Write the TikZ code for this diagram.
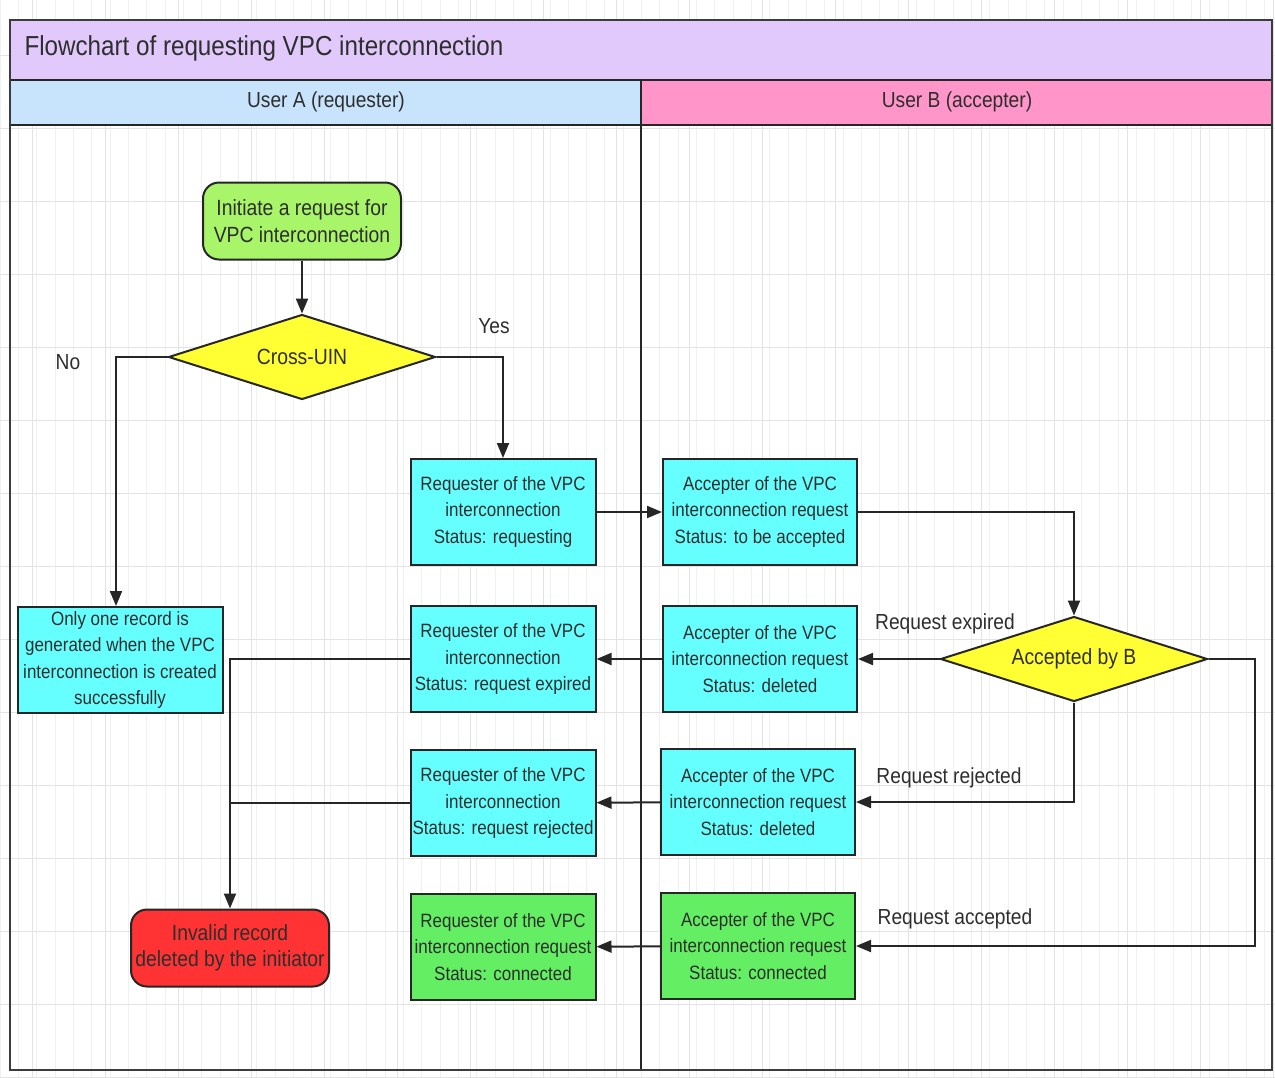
\documentclass[tikz,border=0pt]{standalone}
\usepackage{fontspec}
\setmainfont{Liberation Sans}[FakeStretch=0.88]
\usetikzlibrary{arrows.meta,shapes.geometric,positioning}

\definecolor{ink}{HTML}{2E2E2E}
\definecolor{edge}{HTML}{262626}
\definecolor{titlefill}{HTML}{E2C9FC}
\definecolor{lanea}{HTML}{C8E4FC}
\definecolor{laneb}{HTML}{FF95C8}
\definecolor{startgreen}{HTML}{A8F56A}
\definecolor{decyellow}{HTML}{FFFF33}
\definecolor{statecyan}{HTML}{66FFFF}
\definecolor{stategreen}{HTML}{63EE63}
\definecolor{endred}{HTML}{FF3333}

\tikzset{%
  >={Triangle[length=15pt,width=12pt]},
  flow/.style={->, line width=2pt, draw=edge},
  statebox/.style={draw=edge, line width=2pt, fill=statecyan, text=ink,
    minimum width=185pt, minimum height=106pt, inner sep=1pt, align=center,
    font=\fontsize{19.3}{26.5}\selectfont},
  donebox/.style={statebox, fill=stategreen},
  roundbox/.style={statebox, rounded corners=16pt, minimum width=198pt,
    minimum height=77pt, font=\fontsize{22}{26.5}\selectfont},
  decision/.style={diamond, aspect=3.15, draw=edge, line width=2pt,
    fill=decyellow, text=ink, inner sep=0pt, minimum width=267pt,
    minimum height=85pt, font=\fontsize{22}{26}\selectfont},
  lbl/.style={text=ink, font=\fontsize{21.8}{26}\selectfont},
  lanehead/.style={text=ink, font=\fontsize{21.8}{26}\selectfont}
}

\begin{document}
\begin{tikzpicture}[x=1pt, y=-1pt]
  \useasboundingbox (0,0) rectangle (1275,1077);
  \fill[white] (0,0) rectangle (1275,1077);

  % background grid
  \draw[gray!12, line width=0.8pt, step=18.33] (0,0) grid (1275,1077);
  \foreach \x in {32,105,...,1275}
    \draw[gray!22, line width=0.8pt] (\x,0) -- (\x,1077);
  \foreach \y in {55,128,...,1077}
    \draw[gray!22, line width=0.8pt] (0,\y) -- (1275,\y);

  % pool and lanes
  \fill[titlefill] (10,20) rectangle (1272,80);
  \fill[lanea] (10,80) rectangle (641,125);
  \fill[laneb] (641,80) rectangle (1272,125);
  \draw[edge, line width=2pt] (10,80) -- (1272,80) (10,125) -- (1272,125)
    (641,80) -- (641,1070);
  \draw[edge!90, line width=2.5pt] (10,20) rectangle (1272,1070);
  \node[text=ink, anchor=west, font=\fontsize{27.5}{32}\selectfont] (title) at (21,48)
    {Flowchart of requesting VPC interconnection};
  \node[lanehead] (usera) at (326,102) {User A (requester)};
  \node[lanehead] (userb) at (957,102) {User B (accepter)};

  % steps
  \node[roundbox, fill=startgreen] (start) at (302,221)
    {Initiate a request for\\VPC interconnection};
  \node[decision] (uin) at (302,357) {Cross-UIN};
  \node[statebox] (reqa) at (503,512)
    {Requester of the VPC\\interconnection\\Status: requesting};
  \node[statebox, minimum width=194pt] (acca) at (760,512)
    {Accepter of the VPC\\interconnection request\\Status: to be accepted};
  \node[decision] (accb) at (1074,659) {Accepted by B};
  \node[statebox, minimum width=205pt] (one) at (120,660)
    {Only one record is\\generated when the VPC\\interconnection is created\\successfully};
  \node[statebox] (reqexp) at (503,659)
    {Requester of the VPC\\interconnection\\Status: request expired};
  \node[statebox, minimum width=194pt] (accexp) at (760,659)
    {Accepter of the VPC\\interconnection request\\Status: deleted};
  \node[statebox] (reqrej) at (503,803)
    {Requester of the VPC\\interconnection\\Status: request rejected};
  \node[statebox, minimum width=194pt] (accrej) at (758,802)
    {Accepter of the VPC\\interconnection request\\Status: deleted};
  \node[donebox] (reqok) at (503,947)
    {Requester of the VPC\\interconnection request\\Status: connected};
  \node[donebox, minimum width=194pt] (accok) at (758,946)
    {Accepter of the VPC\\interconnection request\\Status: connected};
  \node[roundbox, fill=endred] (invalid) at (230,948)
    {Invalid record\\deleted by the initiator};

  % labels
  \node[lbl] (yes) at (494,326) {Yes};
  \node[lbl] (no) at (68,362) {No};
  \node[lbl] (lexp) at (945,624) {Request expired};
  \node[lbl] (lrej) at (949,778) {Request rejected};
  \node[lbl] (lok) at (955,919) {Request accepted};

  % connectors
  \draw[flow] (start) -- (uin);
  \draw[flow] (uin.west) -| ([xshift=-4pt]one.north);
  \draw[flow] (uin.east) -| (reqa.north);
  \draw[flow] (reqa) -- (acca);
  \draw[flow] (acca.east) -| (accb.north);
  \draw[flow] (accb.west) -- (accexp.east);
  \draw[flow] (accb.south) |- (accrej.east);
  \draw[flow] (accb.east) -- ++(46,0) |- (accok.east);
  \draw[flow] (accexp) -- (reqexp);
  \draw[flow] (accrej) -- (reqrej);
  \draw[flow] (accok) -- (reqok);
  \draw[flow] (reqexp.west) -| (invalid.north);
  \draw[line width=2pt, draw=edge] (reqrej.west) -- (reqrej.west -| invalid.north);

\end{tikzpicture}
\end{document}
